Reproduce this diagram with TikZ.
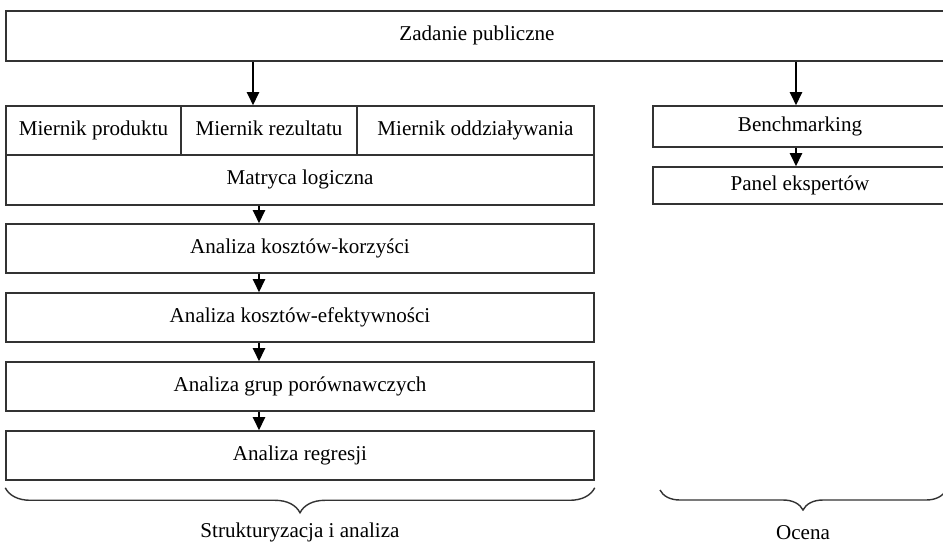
\documentclass[tikz,border=0pt]{standalone}
\usepackage{fontspec}
\setmainfont{Liberation Serif}
\usetikzlibrary{calc,positioning,arrows.meta,decorations.pathreplacing}

\begin{document}
\begin{tikzpicture}[x=0.02cm, y=-0.02cm,
  box/.style={draw=black!80, line width=0.9pt, inner sep=0pt, text height=1.6ex, text depth=0.45ex, font=\fontsize{12}{14}\selectfont},
  arr/.style={line width=0.9pt, -{Triangle[width=7pt,length=7.5pt]}},
  brc/.style={draw=black!80, line width=0.8pt, decorate, decoration={brace, mirror, amplitude=#1}},
  lbl/.style={font=\fontsize{12}{14}\selectfont, inner sep=0pt}]
\useasboundingbox (0,0) rectangle (943,542);
\clip (0,0) rectangle (943,542);
\node[box, minimum width=18.84cm, minimum height=1cm] (zadanie) at (477,36) {Zadanie publiczne};
% strukturyzacja
\node[box, minimum width=3.5cm, minimum height=0.98cm] (produkt) at (93.5,130.5) {Miernik produktu};
\node[box, minimum width=3.52cm, minimum height=0.98cm] (rezultat) at (269,130.5) {Miernik rezultatu};
\node[box, minimum width=4.74cm, minimum height=0.98cm] (oddzial) at (475.5,130.5) {Miernik oddziaływania};
\node[box, minimum width=11.76cm, minimum height=1cm] (matryca) at (300,180) {Matryca logiczna};
\foreach \n/\t [count=\i] in {korzysci/Analiza kosztów-korzyści, efekt/Analiza kosztów-efektywności, grupy/Analiza grup porównawczych, regresja/Analiza regresji}
  \node[box, minimum width=11.76cm, minimum height=0.98cm] (\n) at (300,179.5+69*\i) {\t};
% ocena
\node[box, minimum width=5.88cm, minimum height=0.82cm] (bench) at (800,126.5) {Benchmarking};
\node[box, minimum width=5.88cm, minimum height=0.74cm] (panel) at (800,185.5) {Panel ekspertów};
\coordinate (wejscie) at ([xshift=-0.32cm]rezultat.north);
\draw[arr] (wejscie |- zadanie.south) -- (wejscie);
\draw[arr] ([xshift=-0.08cm]bench.north |- zadanie.south) -- ([xshift=-0.08cm]bench.north);
\draw[arr] ([xshift=-0.08cm]bench.south) -- ([xshift=-0.08cm]panel.north);
\foreach \a/\b in {matryca/korzysci, korzysci/efekt, efekt/grupy, grupy/regresja}
  \draw[arr] ([xshift=-0.82cm]\a.south) -- ([xshift=-0.82cm]\b.north);
% klamry
\draw[brc=0.5cm] ([yshift=-0.14cm]regresja.south west) -- ([yshift=-0.14cm]regresja.south east);
\draw[brc=0.4cm] (660,490) -- (946,490);
\path (300,532) node[lbl] (struktura) {Strukturyzacja i analiza};
\path (803,533) node[lbl] (ocena) {Ocena};
\end{tikzpicture}
\end{document}
